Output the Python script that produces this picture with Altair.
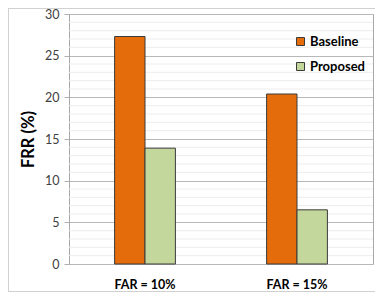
import altair as alt
import pandas as pd

categories = ["FAR = 10%", "FAR = 15%"]
series = ["Baseline", "Proposed"]
baseline = [27.3, 20.4]
proposed = [13.9, 6.5]
major_ticks = [0, 5, 10, 15, 20, 25, 30]
minor_grid = [1, 2, 3, 4, 6, 7, 8, 9, 11, 12, 13, 14, 16, 17, 18, 19,
              21, 22, 23, 24, 26, 27, 28, 29]
colors = ["#E46C0A", "#C3D69B"]

rows = []
for c, b, p in zip(categories, baseline, proposed):
    rows.append({"cat": c, "series": "Baseline", "FRR": b})
    rows.append({"cat": c, "series": "Proposed", "FRR": p})
df = pd.DataFrame(rows)
grid_df = pd.DataFrame({"FRR": minor_grid})

yscale = alt.Scale(domain=[0, 30], nice=False, zero=True)
yaxis = alt.Axis(title="FRR (%)", values=major_ticks,
                 titleFontWeight="bold", titleFontSize=16.5,
                 titleColor="#000000", titlePadding=8,
                 labelFontSize=12.5, labelColor="#404040",
                 labelPadding=5, tickSize=5, tickColor="#B0B0B0",
                 gridColor="#B8B8B8", domainColor="#A8A8A8")

one = alt.Data(values=[{}])
frame = "#D0D0D0"
border_top = alt.Chart(one).mark_rule(color=frame).encode(
    x=alt.value(-61), x2=alt.value(306), y=alt.value(-5.5))
border_bottom = alt.Chart(one).mark_rule(color=frame).encode(
    x=alt.value(-61), x2=alt.value(306), y=alt.value(277.5))
border_left = alt.Chart(one).mark_rule(color=frame).encode(
    x=alt.value(-60.5), y=alt.value(-6), y2=alt.value(278))

minor = alt.Chart(grid_df).mark_rule(color="#EDEDED", strokeWidth=1).encode(
    y=alt.Y("FRR:Q", scale=yscale, axis=yaxis)
)

bars = alt.Chart(df).mark_bar(stroke="#3A3A3A", strokeWidth=1).encode(
    x=alt.X("cat:N", sort=categories,
            scale=alt.Scale(paddingInner=0.6, paddingOuter=0.3),
            axis=alt.Axis(title=None, labelAngle=0, labelFontWeight="bold",
                          labelFontSize=12.5, labelColor="#000000",
                          labelPadding=14, ticks=False, domain=False)),
    xOffset=alt.XOffset("series:N", sort=series),
    y=alt.Y("FRR:Q", scale=yscale, axis=yaxis),
    color=alt.Color("series:N", sort=series,
                    scale=alt.Scale(domain=series, range=colors),
                    legend=alt.Legend(title=None, orient="none",
                                      legendX=225, legendY=21,
                                      symbolType="square", symbolSize=64,
                                      symbolStrokeColor="#3A3A3A",
                                      symbolStrokeWidth=1,
                                      labelFontSize=13, labelFontWeight="bold",
                                      labelColor="#000000", rowPadding=11,
                                      labelOffset=3)),
)

chart = alt.layer(border_top, border_bottom, border_left, minor, bars).properties(
    width=304, height=250,
    autosize=alt.AutoSizeParams(type="none"),
    padding={"left": 61, "top": 6, "right": 2, "bottom": 31},
).configure(font="Lato").configure_view(stroke="#A8A8A8", strokeWidth=1)

chart.save("out.html", embed_options={"renderer": "svg", "actions": False})
